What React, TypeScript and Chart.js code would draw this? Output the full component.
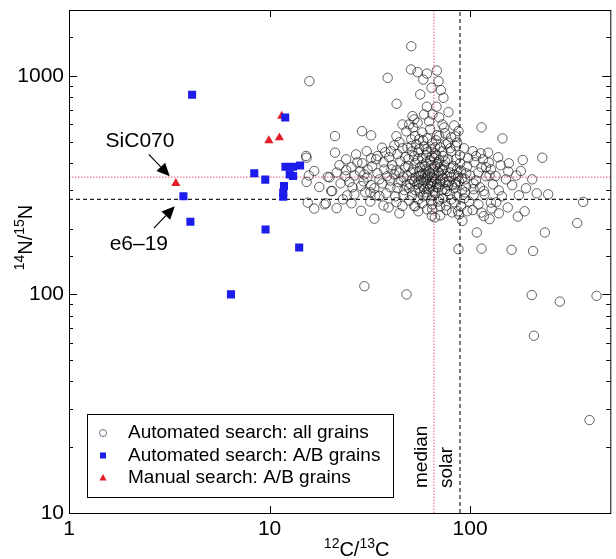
import React, { useEffect, useRef } from 'react';
import { Chart, registerables } from 'chart.js';

Chart.register(...registerables);

const FONT = "'Liberation Sans', Arial, Helvetica, sans-serif";

// axis ranges
const X_MIN = 1;
const X_MAX = 500;
const Y_MIN = 10;
const Y_MAX = 2000;

// reference ratios
const MEDIAN_C = 66;
const SOLAR_C = 89;
const MEDIAN_N = 344;
const SOLAR_N = 272;

// [12C/13C, 14N/15N] - automated search, all grains
const allGrains: [number, number][] = [
  [50.9, 1365], [15.8, 945], [38.8, 979], [50.7, 1069], [54.7, 1039], [60.9, 1024], [68.3, 1057],
  [58.4, 961], [69.6, 945], [64.2, 882], [71.5, 860], [56.4, 822], [73.6, 793], [43.0, 745],
  [60.9, 722], [68.0, 722], [78.0, 682], [51.6, 654], [59.0, 666], [64.9, 666], [49.7, 599],
  [54.7, 610], [72.8, 599], [83.3, 593], [114, 581], [87.5, 558], [28.9, 558], [21.2, 530],
  [32.1, 534], [145, 517], [53.2, 530], [55.7, 512], [70.1, 530], [77.7, 494], [44.4, 497],
  [36.4, 469], [30.5, 452], [21.2, 445], [27.0, 437], [40.3, 452], [48.7, 469], [84.9, 477],
  [103, 452], [113, 442], [123, 445], [229, 422], [183, 412], [15.3, 422], [16.7, 367],
  [24.1, 370], [19.9, 343], [15.3, 327], [17.7, 310], [20.5, 297], [25.0, 327], [29.7, 354],
  [34.0, 415], [28.6, 313], [23.2, 272], [26.5, 287], [35.3, 282], [30.8, 373], [124, 401],
  [127, 373], [134, 348], [151, 336], [179, 367], [204, 336], [139, 299], [245, 287], [366, 265],
  [15.5, 263], [16.7, 247], [19.1, 261], [28.6, 241], [33.3, 222], [39.2, 250], [46.0, 254],
  [52.6, 254], [64.5, 229], [66.7, 225], [76.2, 243], [88.1, 232], [91.5, 217], [103, 243],
  [114, 237], [127, 263], [128, 247], [125, 221], [173, 227], [187, 240], [108, 192], [236, 192],
  [342, 212], [87.5, 161], [114, 162], [161, 160], [206, 158], [29.7, 109], [48.2, 100],
  [203, 99.3], [280, 92.7], [427, 98.5], [208, 64.7], [394, 26.6], [15.2, 430], [19.5, 345],
  [15.7, 350], [20.3, 297], [18.8, 258],
  // dense core
  [48.1, 557], [52.0, 580], [57.7, 551], [63.2, 569], [75.1, 546], [80.4, 523], [61.1, 518],
  [50.9, 512], [67.7, 507], [41.9, 481], [46.0, 466], [53.9, 486], [59.0, 476], [64.7, 491],
  [70.9, 471], [75.9, 486], [86.1, 496], [93.4, 466], [51.4, 451], [37.7, 447], [34.5, 429],
  [39.5, 424], [43.4, 438], [47.5, 424], [55.2, 447], [60.4, 433], [67.0, 442], [73.4, 429],
  [80.4, 451], [89.1, 433], [97.8, 420], [107, 429], [116, 415], [138, 424], [32.1, 420],
  [24.1, 415], [27.4, 402], [22.3, 390], [25.6, 382], [29.0, 398], [32.5, 386], [37.0, 402],
  [40.9, 390], [44.9, 406], [49.2, 386], [53.3, 398], [57.7, 390], [63.2, 411], [68.5, 394],
  [75.1, 406], [82.3, 386], [89.1, 398], [96.7, 386], [105, 402], [114, 382], [142, 390],
  [156, 398], [37.3, 373], [42.9, 369], [60.4, 373], [72.6, 369], [86.1, 373], [21.6, 361],
  [26.5, 350], [30.7, 343], [34.5, 358], [38.6, 347], [41.9, 354], [46.5, 343], [50.9, 361],
  [55.2, 347], [59.7, 354], [64.7, 343], [70.1, 358], [76.8, 347], [83.2, 354], [91.2, 340],
  [100, 350], [110, 361], [120, 347], [155, 365], [170, 350], [62.5, 365], [67.7, 336],
  [57.0, 332], [22.6, 322], [25.9, 309], [29.4, 329], [32.1, 316], [36.5, 322], [40.0, 309],
  [43.9, 326], [48.1, 316], [52.7, 329], [58.3, 312], [64.0, 322], [69.3, 309], [75.1, 326],
  [81.3, 316], [88.1, 329], [95.6, 312], [104, 322], [112, 309], [130, 319], [162, 316],
  [190, 306], [62.5, 303], [72.6, 300], [53.3, 300], [24.4, 284], [30.0, 293], [33.7, 284],
  [38.2, 290], [42.4, 281], [47.0, 300], [51.4, 284], [56.3, 293], [61.1, 284], [67.0, 290],
  [73.4, 275], [79.5, 287], [86.1, 281], [94.5, 293], [104, 284], [118, 287], [144, 281],
  [175, 284], [215, 290], [21.6, 248], [25.6, 261], [31.8, 266], [37.0, 255], [42.9, 264],
  [49.7, 269], [57.7, 261], [69.3, 266], [75.9, 255], [83.2, 264], [90.1, 253], [98.9, 266],
  [110, 258], [135, 264], [154, 250], [44.4, 235], [55.2, 240], [61.1, 245], [70.9, 230],
  [81.3, 237], [96.7, 240], [117, 228], [139, 235], [61.8, 350], [65.5, 373], [59.0, 329],
  [68.5, 319], [63.2, 312], [55.7, 365], [73.4, 340], [60.4, 402], [66.2, 420], [70.9, 382],
  [55.0, 415], [78.6, 329], [64.0, 461], [58.3, 507], [68.5, 535], [74.2, 580], [52.7, 632],
  [62.5, 619], [70.1, 645], [46.0, 599], [42.9, 529], [84.2, 529], [90.1, 369], [104, 303],
  [49.7, 306], [40.0, 332], [33.3, 306], [28.3, 365], [23.9, 347],
  [50.9, 476], [55.7, 461], [61.1, 447], [67.0, 471], [72.6, 451], [79.5, 466], [49.2, 415],
  [52.7, 429], [57.7, 420], [64.7, 429], [70.1, 411], [77.7, 415], [85.1, 415], [47.5, 382],
  [52.0, 373], [56.3, 382], [67.0, 386], [74.2, 390], [80.4, 377], [44.4, 361], [48.6, 350],
  [53.3, 343], [58.3, 358], [71.7, 350], [79.5, 361], [87.1, 347], [95.6, 358], [45.4, 332],
  [50.3, 319], [55.2, 326], [60.4, 336], [66.2, 326], [70.9, 332], [77.7, 316], [85.1, 326],
  [94.5, 336], [107, 332], [43.4, 306], [55.7, 306], [60.4, 293], [65.5, 297], [76.8, 297],
  [83.2, 306], [91.2, 300], [46.5, 284], [55.2, 272], [64.0, 269], [80.4, 272], [93.4, 275],
  [70.9, 253], [64.7, 245], [53.3, 253], [87.1, 240], [40.5, 373], [35.3, 336], [31.8, 293],
  [117, 297], [125, 350], [120, 382],
  [63.2, 358], [66.2, 350], [69.3, 365], [61.1, 343], [64.7, 329], [67.7, 309], [61.8, 319],
  [70.9, 319], [59.0, 303], [65.5, 284], [59.7, 386], [64.0, 390], [69.3, 402], [73.4, 373],
  [57.0, 350], [54.5, 319], [75.1, 303], [80.4, 343], [67.7, 433], [60.4, 461], [70.1, 272],
  [58.3, 281], [51.4, 336], [84.2, 319], [64.7, 258],
];

// automated search, A/B grains
const abGrains: [number, number][] = [
  [4.11, 819], [3.72, 281], [4.03, 215], [6.42, 100], [8.39, 358], [9.52, 335], [9.55, 198],
  [11.97, 645], [14.05, 164], [12.0, 384], [13.1, 384], [14.2, 389], [12.6, 354], [13.1, 348],
  [11.8, 313], [11.7, 292], [11.7, 280],
];

// manual search, A/B grains
const manualGrains: [number, number][] = [
  [3.41, 322], [9.92, 505], [11.2, 521], [11.5, 654],
];

// labelled grains: text position, arrow start, arrow tip
const callouts = [
  { label: 'SiC070', text: [2.26, 501], from: [2.5, 437], to: [3.18, 347] },
  { label: 'e6\u201319', text: [2.23, 170], from: [2.65, 201], to: [3.37, 253] },
];

const decadeLabel = (v: number | string) => {
  const n = Number(v);
  const l = Math.log10(n);
  return Math.abs(l - Math.round(l)) < 1e-9 ? String(n) : '';
};

const isDecade = (v: number) => {
  const l = Math.log10(v);
  return Math.abs(l - Math.round(l)) < 1e-9;
};

function drawSupText(ctx: CanvasRenderingContext2D, parts: [string, boolean][], cx: number, cy: number, rotate: boolean) {
  ctx.save();
  ctx.translate(cx, cy);
  if (rotate) ctx.rotate(-Math.PI / 2);
  ctx.fillStyle = '#000';
  ctx.textBaseline = 'alphabetic';
  ctx.textAlign = 'left';
  const widths = parts.map(([t, sup]) => {
    ctx.font = `${sup ? 14 : 20}px ${FONT}`;
    return ctx.measureText(t).width;
  });
  let x = -widths.reduce((a, b) => a + b, 0) / 2;
  parts.forEach(([t, sup], i) => {
    ctx.font = `${sup ? 14 : 20}px ${FONT}`;
    ctx.fillText(t, x, sup ? -8 : 0);
    x += widths[i];
  });
  ctx.restore();
}

const decorations = {
  id: 'decorations',
  afterDraw(chart: any) {
    const { ctx, chartArea } = chart;
    const xs = chart.scales.x;
    const ys = chart.scales.y;
    const { left, right, top, bottom } = chartArea;
    ctx.save();

    // frame
    ctx.strokeStyle = '#000';
    ctx.lineWidth = 1;
    ctx.strokeRect(left + 0.5, top + 0.5, right - left, bottom - top);

    // inward ticks
    ctx.beginPath();
    xs.ticks.forEach((t: any) => {
      if (!isDecade(t.value)) return;
      const px = Math.round(xs.getPixelForValue(t.value)) + 0.5;
      ctx.moveTo(px, bottom);
      ctx.lineTo(px, bottom - 7);
      ctx.moveTo(px, top);
      ctx.lineTo(px, top + 7);
    });
    ys.ticks.forEach((t: any) => {
      const len = isDecade(t.value) ? 8 : 4;
      const py = Math.round(ys.getPixelForValue(t.value)) + 0.5;
      ctx.moveTo(left, py);
      ctx.lineTo(left + len, py);
      ctx.moveTo(right, py);
      ctx.lineTo(right - len, py);
    });
    ctx.stroke();

    // callouts with arrows
    ctx.fillStyle = '#000';
    ctx.font = `21px ${FONT}`;
    ctx.textAlign = 'center';
    ctx.textBaseline = 'middle';
    callouts.forEach((c) => {
      ctx.fillText(c.label, xs.getPixelForValue(c.text[0]), ys.getPixelForValue(c.text[1]));
      const x0 = xs.getPixelForValue(c.from[0]);
      const y0 = ys.getPixelForValue(c.from[1]);
      const x1 = xs.getPixelForValue(c.to[0]);
      const y1 = ys.getPixelForValue(c.to[1]);
      const ang = Math.atan2(y1 - y0, x1 - x0);
      const head = 13;
      const half = 6;
      const bx = x1 - head * Math.cos(ang);
      const by = y1 - head * Math.sin(ang);
      ctx.beginPath();
      ctx.moveTo(x0, y0);
      ctx.lineTo(bx, by);
      ctx.lineWidth = 1.2;
      ctx.stroke();
      ctx.beginPath();
      ctx.moveTo(x1, y1);
      ctx.lineTo(bx + half * Math.sin(ang), by - half * Math.cos(ang));
      ctx.lineTo(bx - half * Math.sin(ang), by + half * Math.cos(ang));
      ctx.closePath();
      ctx.fill();
    });

    // vertical line labels
    ctx.font = `19px ${FONT}`;
    ctx.textAlign = 'left';
    ctx.textBaseline = 'middle';
    [
      ['median', MEDIAN_C, -12],
      ['solar', SOLAR_C, -13],
    ].forEach(([txt, v, dx]: any) => {
      ctx.save();
      ctx.translate(xs.getPixelForValue(v) + dx, bottom - 25);
      ctx.rotate(-Math.PI / 2);
      ctx.fillText(txt, 0, 0);
      ctx.restore();
    });

    // legend box
    const lx = left + 18;
    const ly = bottom - 99;
    ctx.fillStyle = '#fff';
    ctx.fillRect(lx, ly, 306, 83);
    ctx.strokeStyle = '#000';
    ctx.lineWidth = 1;
    ctx.strokeRect(lx + 0.5, ly + 0.5, 306, 83);
    ctx.font = `19px ${FONT}`;
    ctx.textAlign = 'left';
    ctx.textBaseline = 'middle';
    chart.data.datasets.slice(0, 3).forEach((ds: any, i: number) => {
      const cy = ly + 19 + i * 22.5;
      const mx = lx + 16;
      ctx.beginPath();
      if (ds.pointStyle === 'circle') {
        ctx.arc(mx, cy, 3.5, 0, Math.PI * 2);
        ctx.strokeStyle = 'rgba(60,60,90,0.9)';
        ctx.lineWidth = 0.8;
        ctx.stroke();
      } else if (ds.pointStyle === 'rect') {
        ctx.fillStyle = ds.backgroundColor;
        ctx.fillRect(mx - 3, cy - 3, 6, 6);
      } else {
        ctx.moveTo(mx, cy - 4);
        ctx.lineTo(mx + 3.6, cy + 2.5);
        ctx.lineTo(mx - 3.6, cy + 2.5);
        ctx.closePath();
        ctx.fillStyle = ds.backgroundColor;
        ctx.fill();
      }
      ctx.fillStyle = '#000';
      ctx.fillText(ds.label, lx + 41, cy);
    });

    // axis titles
    drawSupText(ctx, [['12', true], ['C/', false], ['13', true], ['C', false]], (left + right) / 2 + 17, bottom + 43, false);
    drawSupText(ctx, [['14', true], ['N/', false], ['15', true], ['N', false]], 32, (top + bottom) / 2 - 24, true);

    ctx.restore();
  },
};

export default function App() {
  const canvasRef = useRef<HTMLCanvasElement>(null);

  useEffect(() => {
    if (!canvasRef.current) return;
    const toPts = (arr: [number, number][]) => arr.map(([x, y]) => ({ x, y }));
    const chart = new Chart(canvasRef.current, {
      type: 'scatter',
      data: {
        datasets: [
          {
            label: 'Automated search: all grains',
            data: toPts(allGrains),
            pointStyle: 'circle',
            pointRadius: 4.7,
            borderColor: 'rgba(25,25,25,0.85)',
            borderWidth: 0.8,
            backgroundColor: 'rgba(0,0,0,0)',
            order: 3,
          },
          {
            label: 'Automated search: A/B grains',
            data: toPts(abGrains),
            pointStyle: 'rect',
            pointRadius: 5.7,
            backgroundColor: 'rgb(28,28,235)',
            borderWidth: 0,
            order: 1,
          },
          {
            label: 'Manual search: A/B grains',
            data: toPts(manualGrains),
            pointStyle: 'triangle',
            pointRadius: 5.3,
            backgroundColor: 'rgb(228,30,40)',
            borderWidth: 0,
            order: 2,
          },
          {
            label: 'median C',
            data: [{ x: MEDIAN_C, y: Y_MIN }, { x: MEDIAN_C, y: Y_MAX }],
            showLine: true,
            pointRadius: 0,
            borderColor: 'rgba(225,70,100,0.9)',
            borderWidth: 1,
            borderDash: [1.5, 1.5],
            order: 5,
          },
          {
            label: 'median N',
            data: [{ x: X_MIN, y: MEDIAN_N }, { x: X_MAX, y: MEDIAN_N }],
            showLine: true,
            pointRadius: 0,
            borderColor: 'rgba(225,70,100,0.9)',
            borderWidth: 1,
            borderDash: [1.5, 1.5],
            order: 5,
          },
          {
            label: 'solar C',
            data: [{ x: SOLAR_C, y: Y_MIN }, { x: SOLAR_C, y: Y_MAX }],
            showLine: true,
            pointRadius: 0,
            borderColor: '#222',
            borderWidth: 1.2,
            borderDash: [4, 3],
            order: 5,
          },
          {
            label: 'solar N',
            data: [{ x: X_MIN, y: SOLAR_N }, { x: X_MAX, y: SOLAR_N }],
            showLine: true,
            pointRadius: 0,
            borderColor: '#222',
            borderWidth: 1.2,
            borderDash: [4, 3],
            order: 5,
          },
        ],
      },
      options: {
        animation: false,
        responsive: true,
        maintainAspectRatio: false,
        layout: { padding: { top: 10, right: 4, left: 0, bottom: 0 } },
        plugins: {
          legend: { display: false },
          tooltip: { enabled: false },
        },
        scales: {
          x: {
            type: 'logarithmic',
            min: X_MIN,
            max: X_MAX,
            afterFit: (s: any) => {
              s.height = 46;
              s.paddingLeft = 0;
              s.paddingRight = 0;
            },
            grid: { display: false, drawTicks: false },
            border: { display: false },
            ticks: {
              autoSkip: false,
              maxRotation: 0,
              padding: 4,
              color: '#000',
              font: { family: FONT, size: 21 },
              callback: decadeLabel,
            },
          },
          y: {
            type: 'logarithmic',
            min: Y_MIN,
            max: Y_MAX,
            afterFit: (s: any) => {
              s.width = 69;
              s.paddingTop = 0;
              s.paddingBottom = 0;
            },
            grid: { display: false, drawTicks: false },
            border: { display: false },
            ticks: {
              autoSkip: false,
              padding: 5,
              color: '#000',
              font: { family: FONT, size: 21 },
              callback: decadeLabel,
            },
          },
        },
      },
      plugins: [decorations],
    });
    return () => chart.destroy();
  }, []);

  return (
    <div style={{ position: 'fixed', left: 0, top: 0, width: 616, height: 559, background: '#fff' }}>
      <canvas ref={canvasRef}></canvas>
    </div>
  );
}
